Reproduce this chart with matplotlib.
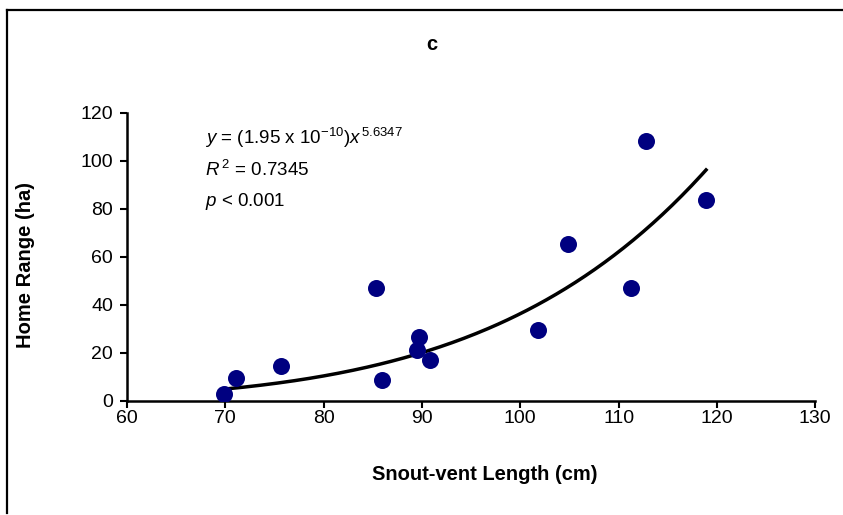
import matplotlib
matplotlib.use("Agg")
import matplotlib.pyplot as plt
import numpy as np

plt.rcParams['font.family'] = ['Liberation Sans', 'DejaVu Sans']
plt.rcParams['mathtext.fontset'] = 'custom'
plt.rcParams['mathtext.rm'] = 'Liberation Sans'
plt.rcParams['mathtext.it'] = 'Liberation Sans:italic'
plt.rcParams['mathtext.bf'] = 'Liberation Sans:bold'

# snout-vent length (cm) and home range (ha)
svl = [69.9, 71.1, 75.7, 85.3, 85.9, 89.7, 89.5, 90.8, 101.8, 104.9, 111.3, 112.8, 118.9]
home_range = [2.9, 9.6, 14.6, 47.0, 8.8, 26.4, 21.3, 16.8, 29.5, 65.2, 46.8, 108.3, 83.6]

# power trendline y = a * x^b
coef_a = 1.95e-10
coef_b = 5.6347

xticks = [60, 70, 80, 90, 100, 110, 120, 130]
yticks = [0, 20, 40, 60, 80, 100, 120]

fig = plt.figure(figsize=(8.43, 5.15), dpi=100)
ax = fig.add_axes([0.1507, 0.222, 0.8163, 0.559])

xfit = np.linspace(min(svl), max(svl), 200)
ax.plot(xfit, coef_a * xfit ** coef_b, color='black', lw=2.5, zorder=2)
ax.scatter(svl, home_range, s=150, color='#000080', zorder=3, linewidths=0)

ax.set_xlim(60, 130)
ax.set_ylim(0, 120)
ax.set_xticks(xticks)
ax.set_yticks(yticks)
ax.tick_params(labelsize=14, width=1.5, length=5, direction='out')
ax.tick_params(axis='x', pad=2)
ax.tick_params(axis='y', pad=5)
for s in ['top', 'right']:
    ax.spines[s].set_visible(False)
for s in ['left', 'bottom']:
    ax.spines[s].set_linewidth(1.8)

# axis titles
fig.text(485 / 843, 1 - 474 / 515, 'Snout-vent Length (cm)', fontsize=14.5,
         fontweight='bold', ha='center', va='center')
fig.text(26 / 843, 1 - 265 / 515, 'Home Range (ha)', fontsize=14.5,
         fontweight='bold', ha='center', va='center', rotation=90)

fig.text(432 / 843, 1 - 44 / 515, 'c', fontsize=14.5, fontweight='bold',
         ha='center', va='center')

fig.text(205 / 843, 1 - 138 / 515,
         r'$\mathit{y}$ = (1.95 x 10$^{-10}$)$\mathit{x}^{\,5.6347}$',
         fontsize=13.5, va='center')
fig.text(205 / 843, 1 - 170 / 515, r'$\mathit{R}^{\,2}$ = 0.7345',
         fontsize=13.5, va='center')
fig.text(205 / 843, 1 - 201 / 515, r'$\mathit{p}$ < 0.001',
         fontsize=13.5, va='center')

# chart area border (left and top edges visible)
bx, by = 6.5 / 843, 1 - 10 / 515
fig.add_artist(plt.Line2D([bx, bx], [2 / 515, by], color='black',
                          lw=1.6, transform=fig.transFigure))
fig.add_artist(plt.Line2D([bx, 1], [by, by], color='black',
                          lw=1.6, transform=fig.transFigure))

fig.savefig('out.png', dpi=100)
